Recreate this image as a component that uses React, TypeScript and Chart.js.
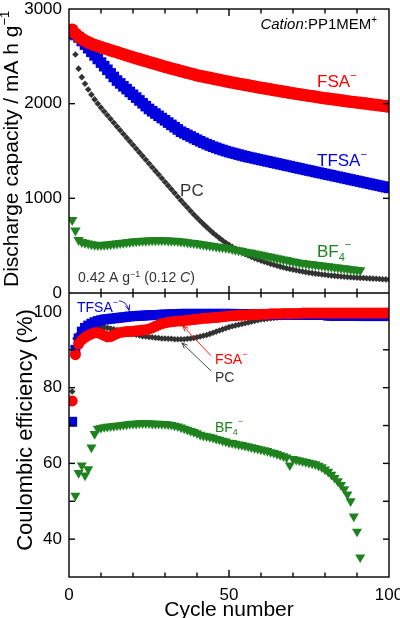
import React, { useEffect, useRef } from 'react';
import { Chart, registerables } from 'chart.js';

Chart.register(...registerables);

const FONT = '"Liberation Sans", Arial, Helvetica, sans-serif';
const RED = '#ff0000';
const BLUE = '#0000dc';
const DARK = '#333333';
const GREEN = '#1e821e';
const INK = '#000000';

// Discharge capacity (mA h g-1), one entry per cycle starting at cycle 1
const capacityFSA = [
  2780, 2740, 2710, 2685, 2665, 2648, 2633, 2620, 2608, 2597,
  2586, 2576, 2565, 2554, 2544, 2533, 2522, 2511, 2501, 2490,
  2480, 2470, 2460, 2450, 2440, 2430, 2420, 2410, 2400, 2390,
  2381, 2372, 2363, 2354, 2345, 2336, 2327, 2318, 2309, 2300,
  2293, 2286, 2279, 2272, 2265, 2258, 2251, 2244, 2237, 2230,
  2224, 2218, 2211, 2205, 2199, 2193, 2187, 2180, 2174, 2168,
  2162, 2156, 2151, 2145, 2139, 2133, 2127, 2122, 2116, 2110,
  2105, 2100, 2094, 2089, 2084, 2079, 2074, 2068, 2063, 2058,
  2053, 2049, 2044, 2040, 2035, 2030, 2026, 2021, 2017, 2012,
  2008, 2004, 2000, 1995, 1991, 1987, 1983, 1978, 1974, 1970,
];
const capacityTFSA = [
  2740, 2725, 2700, 2662, 2624, 2586, 2548, 2510, 2472, 2434,
  2396, 2358, 2320, 2282, 2244, 2214, 2184, 2154, 2124, 2094,
  2064, 2034, 2004, 1974, 1944, 1920, 1896, 1872, 1848, 1824,
  1800, 1776, 1752, 1728, 1704, 1687, 1670, 1653, 1636, 1619,
  1603, 1587, 1572, 1558, 1545, 1533, 1521, 1510, 1499, 1489,
  1480, 1471, 1462, 1453, 1444, 1436, 1429, 1421, 1414, 1406,
  1399, 1391, 1384, 1376, 1369, 1361, 1354, 1346, 1339, 1331,
  1324, 1316, 1309, 1301, 1294, 1287, 1279, 1272, 1265, 1257,
  1250, 1243, 1235, 1228, 1221, 1213, 1206, 1199, 1191, 1184,
  1177, 1169, 1162, 1155, 1147, 1140, 1133, 1125, 1118, 1110,
];
const capacityPC = [
  2750, 2520, 2370, 2280, 2210, 2150, 2095, 2045, 2000, 1958,
  1918, 1878, 1838, 1798, 1758, 1719, 1680, 1641, 1602, 1563,
  1524, 1485, 1446, 1407, 1368, 1329, 1290, 1251, 1212, 1173,
  1134, 1095, 1056, 1017, 978, 940, 903, 866, 830, 795,
  761, 728, 696, 665, 635, 607, 580, 555, 531, 508,
  487, 467, 448, 430, 413, 397, 382, 368, 355, 342,
  330, 319, 308, 298, 288, 279, 270, 262, 254, 247,
  240, 233, 227, 221, 215, 210, 205, 200, 196, 192,
  188, 184, 181, 178, 175, 172, 169, 167, 164, 162,
  160, 158, 156, 154, 152, 150, 148, 146, 144, 142,
];
const capacityBF4 = [
  770, 660, 560, 540, 530, 522, 515, 510, 508, 508,
  510, 513, 516, 520, 524, 528, 532, 536, 540, 543,
  546, 549, 551, 553, 555, 556, 557, 557, 557, 556,
  555, 553, 551, 548, 545, 541, 537, 532, 527, 522,
  517, 512, 507, 502, 497, 492, 487, 482, 477, 472,
  465, 458, 451, 444, 437, 431, 424, 417, 410, 403,
  396, 389, 382, 375, 368, 361, 355, 348, 341, 334,
  327, 320, 316, 312, 307, 303, 299, 295, 290, 286,
  282, 278, 273, 269, 265, 261, 256, 252, 248, 244,
  239,
];

// Coulombic efficiency (%), one entry per cycle starting at cycle 1
const efficiencyFSA = [
  76.5, 88.7, 91.5, 92.6, 93.3, 93.8, 94.2, 94.5, 94.5, 94.2,
  93.8, 93.4, 93.5, 93.9, 94.3, 94.6, 94.7, 94.8, 94.8, 94.9,
  95.0, 95.1, 95.2, 95.3, 95.5, 95.8, 96.2, 96.6, 96.9, 97.1,
  97.3, 97.4, 97.5, 97.6, 97.6, 97.7, 97.8, 97.9, 98.0, 98.1,
  98.2, 98.3, 98.3, 98.4, 98.5, 98.5, 98.6, 98.7, 98.8, 98.9,
  99.0, 99.0, 99.1, 99.1, 99.2, 99.2, 99.3, 99.3, 99.3, 99.4,
  99.4, 99.4, 99.5, 99.5, 99.5, 99.5, 99.6, 99.6, 99.6, 99.6,
  99.6, 99.6, 99.7, 99.7, 99.7, 99.7, 99.7, 99.7, 99.7, 99.7,
  99.7, 99.7, 99.7, 99.7, 99.7, 99.7, 99.7, 99.7, 99.7, 99.7,
  99.7, 99.7, 99.7, 99.7, 99.7, 99.7, 99.7, 99.7, 99.7, 99.7,
];
const efficiencyTFSA = [
  71.0, 90.0, 93.0, 94.8, 95.8, 96.4, 96.9, 97.3, 97.6, 97.8,
  98.0, 98.1, 98.2, 98.3, 98.4, 98.5, 98.6, 98.7, 98.8, 98.9,
  98.9, 99.0, 99.0, 99.1, 99.1, 99.2, 99.2, 99.2, 99.3, 99.3,
  99.3, 99.4, 99.4, 99.4, 99.5, 99.5, 99.5, 99.5, 99.5, 99.5,
  99.5, 99.5, 99.5, 99.5, 99.5, 99.5, 99.5, 99.5, 99.5, 99.5,
  99.5, 99.4, 99.4, 99.4, 99.4, 99.4, 99.4, 99.4, 99.4, 99.4,
  99.4, 99.3, 99.3, 99.3, 99.3, 99.3, 99.3, 99.3, 99.3, 99.3,
  99.2, 99.2, 99.2, 99.2, 99.2, 99.2, 99.2, 99.2, 99.2, 99.2,
  99.0, 99.0, 99.0, 99.0, 99.0, 99.0, 99.0, 99.0, 99.0, 99.0,
  98.9, 98.9, 98.9, 98.9, 98.9, 98.9, 98.9, 98.9, 98.9, 98.9,
];
const efficiencyPC = [
  79.0, 93.0, 94.3, 95.0, 95.5, 95.8, 96.0, 96.1, 96.1, 96.0,
  95.9, 95.8, 95.6, 95.4, 95.2, 95.0, 94.8, 94.6, 94.4, 94.2,
  94.0, 93.8, 93.6, 93.5, 93.4, 93.3, 93.2, 93.1, 93.0, 93.0,
  92.9, 92.9, 92.8, 92.8, 92.8, 92.8, 92.9, 93.0, 93.1, 93.3,
  93.5, 93.7, 93.9, 94.2, 94.5, 94.8, 95.1, 95.4, 95.7, 96.0,
  96.2, 96.4, 96.6, 96.8, 97.0, 97.2, 97.4, 97.6, 97.8, 98.0,
  98.1, 98.2, 98.3, 98.4, 98.5, 98.6, 98.7, 98.8, 98.9, 99.0,
  99.1, 99.2, 99.2, 99.3, 99.3, 99.4, 99.4, 99.4, 99.5, 99.5,
  99.5, 99.5, 99.5, 99.5, 99.5, 99.5, 99.5, 99.5, 99.5, 99.5,
  99.6, 99.6, 99.6, 99.6, 99.6, 99.6, 99.6, 99.6, 99.6, 99.6,
];
// BF4- efficiency starts at cycle 2
const efficiencyBF4 = [
  51.5, 57.5, 59.5, 56.8, 58.5, 64.2, 67.8, 69.2, 69.4,
  69.6, 69.7, 69.8, 69.9, 70.0, 70.1, 70.2, 70.3, 70.4, 70.5,
  70.5, 70.6, 70.6, 70.6, 70.6, 70.5, 70.5, 70.5, 70.4, 70.4,
  70.3, 70.2, 70.0, 69.8, 69.5, 69.2, 68.9, 68.6, 68.3, 68.0,
  67.6, 67.3, 67.2, 67.0, 66.8, 66.5, 66.3, 66.0, 65.8, 65.5,
  65.4, 65.2, 65.0, 64.9, 64.7, 64.5, 64.3, 64.1, 63.9, 63.7,
  63.5, 63.3, 63.0, 62.8, 62.5, 62.2, 61.9, 61.6, 59.5, 61.2,
  61.0, 60.8, 60.6, 60.4, 60.2, 60.0, 59.8, 59.4, 59.0, 58.4,
  57.8, 57.0, 56.2, 55.3, 54.3, 53.2, 51.8, 50.0, 46.0, 42.0,
  35.2,
];

const cycleLabels = [0, 50, 100];
const cycleMarks = [10, 20, 30, 40, 50, 60, 70, 80, 90];
const capacityLabels = [0, 1000, 2000, 3000];
const capacityMarks = [1000, 2000];
const efficiencyLabels = [40, 60, 80, 100];
const efficiencyMarks = [40, 50, 60, 70, 80, 90];

const toPoints = (values: number[], firstCycle = 1) =>
  values.map((y, i) => ({ x: firstCycle + i, y }));

type Run = { t: string; size: number; italic?: boolean; rise?: number };

const fontOf = (r: Run) => `${r.italic ? 'italic ' : ''}${r.size}px ${FONT}`;

function drawRuns(
  ctx: CanvasRenderingContext2D,
  runs: Run[],
  x: number,
  y: number,
  align: 'left' | 'right' | 'center',
  color: string,
) {
  const widths = runs.map((r) => {
    ctx.font = fontOf(r);
    return ctx.measureText(r.t).width;
  });
  const total = widths.reduce((a, b) => a + b, 0);
  let cx = align === 'left' ? x : align === 'right' ? x - total : x - total / 2;
  ctx.fillStyle = color;
  ctx.textAlign = 'left';
  ctx.textBaseline = 'alphabetic';
  runs.forEach((r, i) => {
    ctx.font = fontOf(r);
    ctx.fillText(r.t, cx, y - (r.rise || 0));
    cx += widths[i];
  });
}

function drawPointer(
  ctx: CanvasRenderingContext2D,
  from: [number, number],
  to: [number, number],
  color: string,
  bend?: [number, number],
) {
  ctx.save();
  ctx.strokeStyle = color;
  ctx.lineWidth = 0.9;
  ctx.beginPath();
  ctx.moveTo(from[0], from[1]);
  if (bend) ctx.quadraticCurveTo(bend[0], bend[1], to[0], to[1]);
  else ctx.lineTo(to[0], to[1]);
  ctx.stroke();
  const base = bend || from;
  const ang = Math.atan2(to[1] - base[1], to[0] - base[0]);
  const len = 6;
  ctx.beginPath();
  ctx.moveTo(to[0] - len * Math.cos(ang - 0.4), to[1] - len * Math.sin(ang - 0.4));
  ctx.lineTo(to[0], to[1]);
  ctx.lineTo(to[0] - len * Math.cos(ang + 0.4), to[1] - len * Math.sin(ang + 0.4));
  ctx.stroke();
  ctx.restore();
}

const panelFrame = {
  id: 'panelFrame',
  afterDraw(chart: any) {
    const { ctx, chartArea: area } = chart;
    const xs = chart.scales.x;
    const yc = chart.scales.yCap;
    const ye = chart.scales.yEff;
    const mid = yc.bottom;
    const X = (v: number) => xs.getPixelForValue(v);
    const C = (v: number) => yc.getPixelForValue(v);
    const E = (v: number) => ye.getPixelForValue(v);

    ctx.save();
    ctx.strokeStyle = INK;
    ctx.lineWidth = 1.4;
    const seg = (x1: number, y1: number, x2: number, y2: number) => {
      ctx.beginPath();
      ctx.moveTo(x1, y1);
      ctx.lineTo(x2, y2);
      ctx.stroke();
    };

    // panel frames
    ctx.strokeRect(area.left, area.top, area.right - area.left, area.bottom - area.top);
    seg(area.left, mid, area.right, mid);

    // inward tick marks along the cycle axis
    cycleMarks.forEach((v) => {
      const px = X(v);
      const len = v === 50 ? 7 : 4.5;
      seg(px, area.top, px, area.top + len);
      seg(px, mid - len, px, mid + len);
      seg(px, area.bottom, px, area.bottom - len);
    });
    capacityMarks.forEach((v) => {
      seg(area.left, C(v), area.left + 6, C(v));
      seg(area.right, C(v), area.right - 6, C(v));
    });
    efficiencyMarks.forEach((v) => {
      seg(area.left, E(v), area.left + 6, E(v));
      seg(area.right, E(v), area.right - 6, E(v));
    });

    // cycle tick labels and axis title
    cycleLabels.forEach((v) => {
      drawRuns(ctx, [{ t: String(v), size: 17 }], X(v), area.bottom + 23, 'center', INK);
    });
    drawRuns(ctx, [{ t: 'Cycle number', size: 21 }], X(50), 616, 'center', INK);

    // vertical axis titles
    ctx.save();
    ctx.translate(18, yc.bottom - 6);
    ctx.rotate(-Math.PI / 2);
    drawRuns(
      ctx,
      [
        { t: 'Discharge capacity / mA h g', size: 21 },
        { t: '\u22121', size: 13, rise: 9 },
      ],
      0,
      0,
      'left',
      INK,
    );
    ctx.restore();
    ctx.save();
    ctx.translate(32, (ye.top + ye.bottom) / 2 - 5);
    ctx.rotate(-Math.PI / 2);
    drawRuns(ctx, [{ t: 'Coulombic efficiency (%)', size: 22 }], 0, 0, 'center', INK);
    ctx.restore();

    // capacity panel notes
    drawRuns(
      ctx,
      [
        { t: 'Cation', size: 15, italic: true },
        { t: ':PP1MEM', size: 15 },
        { t: '+', size: 10, rise: 6 },
      ],
      X(96.3),
      C(2789),
      'right',
      INK,
    );
    drawRuns(ctx, [{ t: 'FSA', size: 17 }, { t: '\u2212', size: 11, rise: 8 }], X(77.5), C(2175), 'left', RED);
    drawRuns(ctx, [{ t: 'TFSA', size: 17 }, { t: '\u2212', size: 11, rise: 8 }], X(77.5), C(1340), 'left', BLUE);
    drawRuns(ctx, [{ t: 'PC', size: 17 }], X(34.7), C(1025), 'left', DARK);
    drawRuns(
      ctx,
      [
        { t: 'BF', size: 17 },
        { t: '4', size: 11, rise: -4 },
        { t: '\u2212', size: 11, rise: 9 },
      ],
      X(77.5),
      C(380),
      'left',
      GREEN,
    );
    drawRuns(
      ctx,
      [
        { t: '0.42 A g', size: 14 },
        { t: '\u22121', size: 9, rise: 5 },
        { t: ' (0.12 ', size: 14 },
        { t: 'C', size: 14, italic: true },
        { t: ')', size: 14 },
      ],
      X(2.8),
      C(116),
      'left',
      DARK,
    );

    // efficiency panel notes
    drawRuns(ctx, [{ t: 'TFSA', size: 14 }, { t: '\u2212', size: 9, rise: 7 }], X(2.5), E(100), 'left', BLUE);
    drawPointer(ctx, [X(15.6), E(102.9)], [X(18.8), E(100.4)], BLUE, [X(17.9), E(102.9)]);
    drawRuns(ctx, [{ t: 'FSA', size: 14 }, { t: '\u2212', size: 9, rise: 7 }], X(45.6), E(86.2), 'left', RED);
    drawPointer(ctx, [X(44.4), E(88.4)], [X(35.6), E(96.3)], RED);
    drawRuns(ctx, [{ t: 'PC', size: 14 }], X(45.6), E(81.5), 'left', DARK);
    drawPointer(ctx, [X(44.4), E(84.4)], [X(35.3), E(91.8)], DARK);
    drawRuns(
      ctx,
      [
        { t: 'BF', size: 14 },
        { t: '4', size: 9, rise: -3 },
        { t: '\u2212', size: 9, rise: 8 },
      ],
      X(45.6),
      E(68.3),
      'left',
      GREEN,
    );

    ctx.restore();
  },
};

const tickFont = { family: FONT, size: 17 };

export default function App() {
  const canvasRef = useRef<HTMLCanvasElement | null>(null);

  useEffect(() => {
    const canvas = canvasRef.current;
    if (!canvas) return;

    const marker = (
      data: { x: number; y: number }[],
      axis: string,
      style: string,
      radius: number,
      color: string,
      order: number,
      rotation = 0,
    ) => ({
      data,
      yAxisID: axis,
      pointStyle: style,
      pointRadius: radius,
      pointRotation: rotation,
      pointBackgroundColor: color,
      backgroundColor: color,
      pointBorderWidth: 0,
      borderWidth: 0,
      order,
    });

    const chart = new Chart(canvas, {
      type: 'scatter',
      data: {
        datasets: [
          marker(toPoints(capacityFSA), 'yCap', 'circle', 6.3, RED, 0),
          marker(toPoints(capacityTFSA), 'yCap', 'rect', 7.5, BLUE, 1),
          marker(toPoints(capacityBF4), 'yCap', 'triangle', 6, GREEN, 2, 180),
          marker(toPoints(capacityPC), 'yCap', 'rectRot', 3.3, DARK, 3),
          marker(toPoints(efficiencyFSA), 'yEff', 'circle', 5.5, RED, 4),
          marker(toPoints(efficiencyTFSA), 'yEff', 'rect', 7, BLUE, 5),
          marker(toPoints(efficiencyPC), 'yEff', 'rectRot', 3.3, DARK, 6),
          marker(toPoints(efficiencyBF4, 2), 'yEff', 'triangle', 5.8, GREEN, 7, 180),
        ] as any,
      },
      options: {
        responsive: false,
        animation: false,
        events: [],
        layout: { padding: { top: 9, right: 11, bottom: 0, left: 0 } },
        plugins: { legend: { display: false }, tooltip: { enabled: false } },
        scales: {
          x: {
            type: 'linear',
            position: 'bottom',
            min: 0,
            max: 100,
            ticks: { display: false },
            grid: { display: false, drawTicks: false },
            border: { display: false },
            afterFit: (s: any) => {
              s.height = 41;
              s.paddingLeft = 0;
              s.paddingRight = 0;
            },
          },
          yEff: {
            type: 'linear',
            position: 'left',
            stack: 'panels',
            stackWeight: 1,
            min: 30,
            max: 105,
            afterBuildTicks: (s: any) => {
              s.ticks = efficiencyLabels.map((value) => ({ value }));
            },
            ticks: { font: tickFont, color: INK, padding: 7, callback: (v: any) => String(v) },
            grid: { display: false, drawTicks: false },
            border: { display: false },
            afterFit: (s: any) => {
              s.width = 69;
              s.paddingTop = 0;
              s.paddingBottom = 0;
            },
          },
          yCap: {
            type: 'linear',
            position: 'left',
            stack: 'panels',
            stackWeight: 1,
            min: 0,
            max: 3000,
            afterBuildTicks: (s: any) => {
              s.ticks = capacityLabels.map((value) => ({ value }));
            },
            ticks: { font: tickFont, color: INK, padding: 7, callback: (v: any) => String(v) },
            grid: { display: false, drawTicks: false },
            border: { display: false },
            afterFit: (s: any) => {
              s.width = 69;
              s.paddingTop = 0;
              s.paddingBottom = 0;
            },
          },
        },
      } as any,
      plugins: [panelFrame],
    });

    return () => chart.destroy();
  }, []);

  return (
    <div style={{ position: 'fixed', left: 0, top: 0, width: 400, height: 618, background: '#ffffff' }}>
      <canvas ref={canvasRef} width={400} height={618} style={{ display: 'block' }} />
    </div>
  );
}
